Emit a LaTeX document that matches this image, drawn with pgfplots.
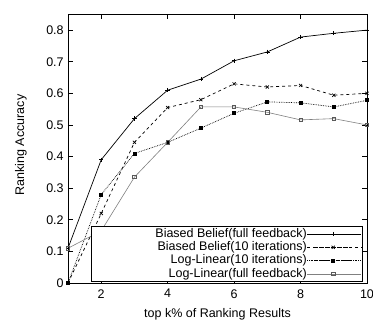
\documentclass[border=0pt]{standalone}
\usepackage{fontspec}
\setmainfont{Liberation Sans}
\usepackage{pgfplots}
\pgfplotsset{compat=1.18}
\newcommand{\legtxt}[1]{\makebox[214bp][r]{#1}}
\begin{document}
\fontsize{12.5bp}{15bp}\selectfont
\begin{tikzpicture}
\useasboundingbox (-68bp,-37bp) rectangle (305bp,283bp);
\begin{axis}[
  at={(0,0)}, anchor=origin,
  scale only axis, width=299bp, height=269bp,
  xmin=1, xmax=10, ymin=0, ymax=0.851,
  xtick={2,4,6,8,10},
  ytick={0,0.1,0.2,0.3,0.4,0.5,0.6,0.7,0.8},
  tick align=inside, tick pos=both,
  major tick length=5bp,
  axis line style={line width=0.9bp},
  every tick/.style={line width=0.8bp, black},
  tick label style={font=\fontsize{12.5bp}{15bp}\selectfont},
  xticklabel style={yshift=-2bp},
  /pgf/number format/assume math mode=true,
  yticklabel style={/pgf/number format/fixed},
  xlabel={top k\% of Ranking Results},
  ylabel={Ranking Accuracy},
  xlabel style={at={(rel axis cs:0.5,0)}, anchor=base, yshift=-34bp},
  ylabel style={at={(rel axis cs:0,0.513)}, anchor=center, yshift=47bp},
  label style={font=\fontsize{12.5bp}{15bp}\selectfont},
  legend plot pos=right,
  legend cell align=right,
  legend style={at={(rel axis cs:0.9866,0.004)}, anchor=south east,
    draw=black, line width=0.8bp, inner xsep=1bp, inner ysep=1bp,
    font=\fontsize{12.5bp}{13.7bp}\selectfont, row sep=0bp, column sep=0bp,
    nodes={text height=9.5bp, text depth=2.8bp, inner ysep=0.5bp, inner xsep=0bp}},
  legend image code/.code={\path (0bp,0bp) -- (54bp,0bp); \draw[mark repeat=2,mark phase=2,#1] plot coordinates {(8bp,0bp) (26bp,0bp) (44bp,0bp)};},
  clip=false,
]
\addplot[black, line width=0.7bp, mark=+, mark size=2.2bp, mark options={solid}] coordinates {
 (1,0.11) (2,0.39) (3,0.52) (4,0.61) (5,0.645) (6,0.703) (7,0.731) (8,0.778) (9,0.79) (10,0.80)};
\addlegendentry{\legtxt{Biased Belief(full feedback)}}
\addplot[black, line width=0.7bp, dashed, mark=x, mark size=2.2bp, mark options={solid}] coordinates {
 (1,0) (2,0.22) (3,0.445) (4,0.555) (5,0.58) (6,0.63) (7,0.62) (8,0.625) (9,0.594) (10,0.60)};
\addlegendentry{\legtxt{Biased Belief(10 iterations)}}
\addplot[black, line width=0.7bp, densely dotted, mark=square*, mark size=1.5bp, mark options={solid}] coordinates {
 (1,0) (2,0.28) (3,0.41) (4,0.445) (5,0.49) (6,0.537) (7,0.573) (8,0.57) (9,0.557) (10,0.578)};
\addlegendentry{\legtxt{Log-Linear(10 iterations)}}
\addplot[black!50, line width=0.6bp, mark=square, mark size=1.7bp, mark options={solid, line width=0.7bp, draw=black!65}] coordinates {
 (1,0.11) (2,0.165) (3,0.335) (4,0.445) (5,0.557) (6,0.557) (7,0.54) (8,0.516) (9,0.52) (10,0.50)};
\addlegendentry{\legtxt{Log-Linear(full feedback)}}
\end{axis}
\end{tikzpicture}
\end{document}
